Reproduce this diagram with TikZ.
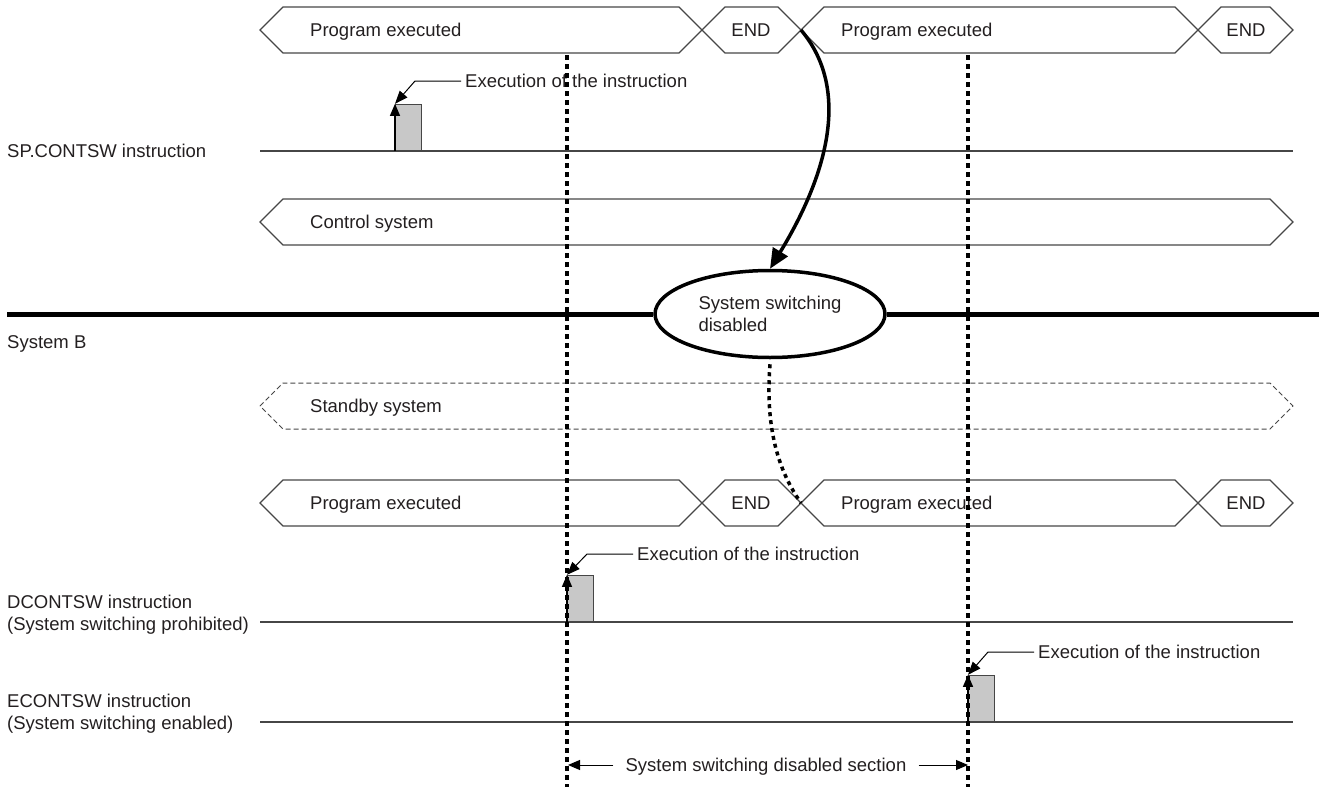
\documentclass[tikz,border=0pt]{standalone}
\usepackage{fontspec}
\setmainfont{Liberation Sans}
\usetikzlibrary{shapes.geometric, arrows.meta, positioning, calc}
\definecolor{TextGray}{RGB}{35, 31, 32}
\definecolor{LineGray}{RGB}{70, 70, 70}
\definecolor{PulseGray}{RGB}{200, 200, 200}

\begin{document}
\begin{tikzpicture}[
    x=1pt, y=-1pt,
    every node/.style={font=\fontsize{18.5}{22.5}\selectfont, text=TextGray},
    bar/.style={draw=LineGray, line width=1.1pt},
    standbybar/.style={draw=LineGray, line width=1pt, dash pattern=on 5pt off 3pt},
    sigline/.style={draw=LineGray, line width=1.3pt},
    pulse/.style={draw=LineGray, fill=PulseGray, line width=1.2pt, minimum width=26pt, minimum height=46pt, inner sep=0pt},
    riseup/.style={line width=1.2pt, -{Triangle[length=12pt, width=10pt]}},
    leader/.style={line width=1pt, -{Triangle[length=13pt, width=10pt]}},
    sidelabel/.style={anchor=west, inner sep=0pt, align=left, text height=13.2pt, text depth=0pt},
    infotext/.style={anchor=west, inner sep=4pt, text height=13.2pt, text depth=0pt},
    bartext/.style={anchor=west, inner sep=0pt, text height=13.2pt, text depth=0pt},
    endtext/.style={inner sep=0pt, text height=13.2pt, text depth=0pt},
    dimtext/.style={inner xsep=12pt, inner ysep=0pt, text height=13.2pt, text depth=0pt},
    sysline/.style={line width=5pt},
    switchbox/.style={ellipse, draw, line width=3.5pt, fill=white, minimum width=230pt, minimum height=87pt, inner sep=0pt, align=left},
    timing/.style={line width=3.5pt, dash pattern=on 5pt off 4pt},
    dotcurve/.style={line width=3.5pt, dash pattern=on 4pt off 4pt},
    switcharrow/.style={line width=3.5pt, -{Triangle[length=20pt, width=17pt]}},
    dimline/.style={line width=1pt, -{Triangle[length=12pt, width=10pt]}}
  ]
    \useasboundingbox (0,0) rectangle (1319,787);

    % Scan of system A (top)
    \draw[bar] (260,30) -- ++(23,-23) -- ++(396,0) -- ++(46,46) -- ++(53,0) -- ++(46,-46) -- ++(351,0) -- ++(46,46) -- ++(49,0) -- ++(23,-23)
      -- ++(-23,-23) -- ++(-49,0) -- ++(-46,46) -- ++(-351,0) -- ++(-46,-46) -- ++(-53,0) -- ++(-46,46) -- ++(-396,0) -- cycle;
    \node[bartext] (progA) at (310,30) {Program executed};
    \node[endtext] (endA) at (751,30) {END};
    \node[bartext] (progB) at (841,30) {Program executed};
    \node[endtext] (endB) at (1246,30) {END};

    % SP.CONTSW
    \node[sidelabel] (splab) at (7,151) {SP.CONTSW instruction};
    \draw[sigline] (260,151) -- (1293,151);
    \node[pulse, anchor=south west] (pulseA) at (395,151) {};
    \node[infotext] (execA) at (461,81) {Execution of the instruction};
    \draw[leader] (execA.west) -- ++(-46,0) -- (pulseA.north west);
    \draw[riseup] (pulseA.south west) -- (pulseA.north west);

    % Control system
    \draw[bar] (260,222) -- ++(23,-23) -- ++(987,0) -- ++(23,23) -- ++(-23,23) -- ++(-987,0) -- cycle;
    \node[bartext] (ctrl) at (310,222) {Control system};

    % System B border
    \node[switchbox] (swoff) at (770,314) {System switching\\disabled};
    \coordinate (sysL) at (7,314);
    \coordinate (sysR) at (1319,314);
    \draw[sysline] (sysL) -- (swoff.west);
    \draw[sysline] (swoff.east) -- (sysR);
    \node[sidelabel] (sysB) at (7,342) {System B};

    % Standby system
    \draw[standbybar] (260,406) -- ++(23,-23) -- ++(987,0) -- ++(23,23) -- ++(-23,23) -- ++(-987,0) -- cycle;
    \node[bartext] (stby) at (310,406) {Standby system};

    % Scan of system B
    \draw[bar] (260,503) -- ++(23,-23) -- ++(396,0) -- ++(46,46) -- ++(53,0) -- ++(46,-46) -- ++(351,0) -- ++(46,46) -- ++(49,0) -- ++(23,-23)
      -- ++(-23,-23) -- ++(-49,0) -- ++(-46,46) -- ++(-351,0) -- ++(-46,-46) -- ++(-53,0) -- ++(-46,46) -- ++(-396,0) -- cycle;
    \node[bartext] (progC) at (310,503) {Program executed};
    \node[endtext] (endC) at (751,503) {END};
    \node[bartext] (progD) at (841,503) {Program executed};
    \node[endtext] (endD) at (1246,503) {END};

    % DCONTSW
    \node[sidelabel] (dlab) at (7,624) {DCONTSW instruction\\(System switching prohibited)};
    \draw[sigline] (260,622) -- (1293,622);
    \node[pulse, anchor=south west] (pulseB) at (567,622) {};
    \node[infotext] (execB) at (633,554) {Execution of the instruction};
    \draw[leader] (execB.west) -- ++(-46,0) -- (pulseB.north west);
    \draw[riseup] (pulseB.south west) -- (pulseB.north west);

    % ECONTSW
    \node[sidelabel] (elab) at (7,723) {ECONTSW instruction\\(System switching enabled)};
    \draw[sigline] (260,722) -- (1293,722);
    \node[pulse, anchor=south west] (pulseC) at (968,722) {};
    \node[infotext] (execC) at (1034,652) {Execution of the instruction};
    \draw[leader] (execC.west) -- ++(-46,0) -- (pulseC.north west);
    \draw[riseup] (pulseC.south west) -- (pulseC.north west);

    % Switching arrows
    \coordinate (crossA) at (801,30);
    \coordinate (crossC) at (801,503);
    \draw[switcharrow] (crossA) .. controls (860,100) and (812,200) .. (swoff.north);
    \draw[dotcurve] ([yshift=-5pt]swoff.south) .. controls (764,440) and (785,480) .. (crossC);

    % Timing lines
    \coordinate (tA) at (567,55);
    \coordinate (tAb) at (567,787);
    \coordinate (tB) at (968,55);
    \coordinate (tBb) at (968,787);
    \draw[timing] (tA) -- (tAb);
    \draw[timing] (tB) -- (tBb);

    % Disabled section
    \node[dimtext] (section) at (766,765) {System switching disabled section};
    \coordinate (secL) at (568,765);
    \coordinate (secR) at (968,765);
    \draw[dimline] (section.west) -- (secL);
    \draw[dimline] (section.east) -- (secR);
  \end{tikzpicture}
\end{document}
